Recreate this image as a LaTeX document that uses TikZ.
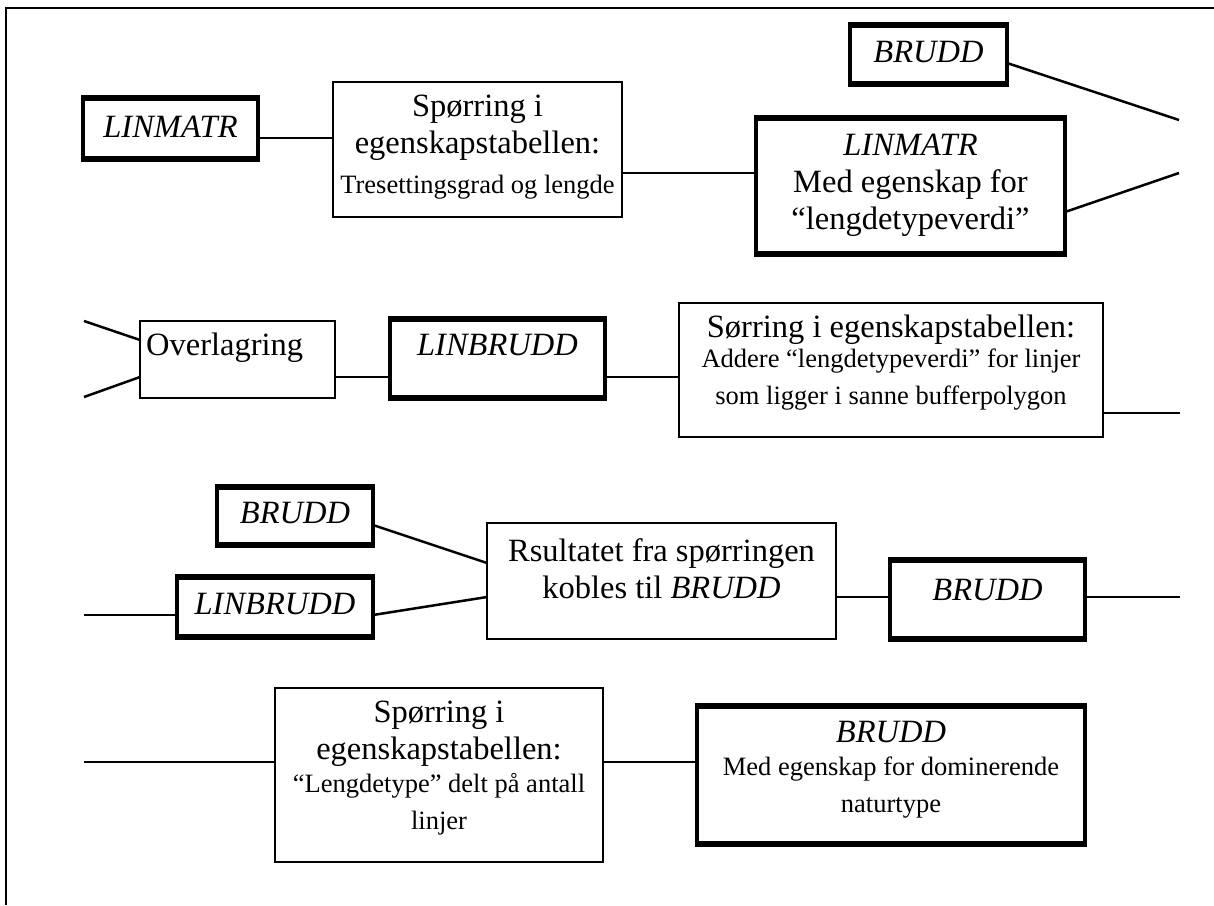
\documentclass[tikz,border=0pt]{standalone}
\usepackage{fontspec}
\setmainfont{Liberation Serif}
\newcommand\BigTxt{\fontsize{32.5}{37}\selectfont}
\newcommand\SmallTxt{\fontsize{26.5}{30.5}\selectfont}
\tikzset{
  thinbox/.style={draw, line width=2.2pt, inner sep=0pt, outer sep=0pt},
  thickbox/.style={draw, line width=4pt, inner sep=0pt, outer sep=0pt},
  thickedge/.style={line width=6.5pt},
  conn/.style={line width=2.5pt},
  txt/.style={anchor=base, align=flush center, inner sep=0pt, font=\BigTxt},
}
\begin{document}
\begin{tikzpicture}[x=1pt, y=-1pt]
\useasboundingbox (0,0) rectangle (1214,905);
% frame
\draw[line width=2.5pt] (6,905) -- (6,8) -- (1214,8);

% ---------- boxes ----------
\node[thickbox, minimum width=175pt, minimum height=61pt]  (lm1)  at (170.5,128.5) {};
\node[thinbox,  minimum width=289pt, minimum height=135pt] (sp1)  at (477.5,149.5) {};
\node[thickbox, minimum width=309pt, minimum height=136pt] (lm2)  at (910.5,186) {};
\node[thickbox, minimum width=157pt, minimum height=59pt]  (br1)  at (928.5,54.5) {};
\node[thinbox,  minimum width=195pt, minimum height=77pt]  (ov)   at (237.5,359.5) {};
\node[thickbox, minimum width=215pt, minimum height=79pt]  (lb2)  at (497.5,358.5) {};
\node[thinbox,  minimum width=424pt, minimum height=134pt] (so)   at (891,370) {};
\node[thickbox, minimum width=156pt, minimum height=58pt]  (br3a) at (295,516) {};
\node[thickbox, minimum width=196pt, minimum height=60pt]  (lb3)  at (275,607) {};
\node[thinbox,  minimum width=349pt, minimum height=116pt] (rs)   at (661.5,581) {};
\node[thickbox, minimum width=195pt, minimum height=79pt]  (br3b) at (987.5,599.5) {};
\node[thinbox,  minimum width=328pt, minimum height=174pt] (sp4)  at (439,775) {};
\node[thickbox, minimum width=388pt, minimum height=138pt] (br4)  at (891,775) {};

\foreach \n in {lm1,lm2,br1,lb2,br3a,lb3,br3b,br4}{
  \draw[thickedge] ([xshift=-2pt]\n.north west) -- ([xshift=2pt]\n.north east);
  \draw[thickedge] ([xshift=-2pt]\n.south west) -- ([xshift=2pt]\n.south east);
}

% ---------- texts ----------
\node[txt, text width=175pt] (tlm1) at (170.5,137) {\textit{LINMATR}};
\node[txt, text width=289pt] (tsp1) at (477.5,116)
  {Spørring i\\egenskapstabellen:\par\vspace{3pt}\SmallTxt Tresettingsgrad og lengde};
\node[txt, text width=309pt] (tlm2) at (910.5,155)
  {\textit{LINMATR}\\Med egenskap for\\“lengdetypeverdi”};
\node[txt, text width=157pt] (tbr1) at (928.5,62) {\textit{BRUDD}};
\node[txt, anchor=base west] (tov) at (146,355) {Overlagring};
\node[txt, text width=215pt] (tlb2) at (497.5,355) {\textit{LINBRUDD}};
\node[txt, text width=424pt] (tso) at (891,337)
  {Sørring i egenskapstabellen:\par\SmallTxt Addere “lengdetypeverdi” for linjer\\som ligger i sanne bufferpolygon};
\node[txt, text width=156pt] (tbr3a) at (295,523) {\textit{BRUDD}};
\node[txt, text width=196pt] (tlb3) at (275,614) {\textit{LINBRUDD}};
\node[txt, text width=349pt] (trs) at (661.5,561)
  {Rsultatet fra spørringen\\kobles til \textit{BRUDD}};
\node[txt, text width=195pt] (tbr3b) at (987.5,600) {\textit{BRUDD}};
\node[txt, text width=328pt] (tsp4) at (439,722)
  {Spørring i\\egenskapstabellen:\par\vspace{3pt}\SmallTxt “Lengdetype” delt på antall\\linjer};
\node[txt, text width=388pt] (tbr4) at (891,742)
  {\textit{BRUDD}\par\vspace{2.5pt}\SmallTxt Med egenskap for dominerende\\naturtype};

% ---------- free ends ----------
\coordinate (r1a) at (1179,120);
\coordinate (r1b) at (1179,173);
\coordinate (l2a) at (84,321);
\coordinate (l2b) at (84,397);
\coordinate (r2)  at (1180,413);
\coordinate (l3)  at (84,615);
\coordinate (r3)  at (1180,597);
\coordinate (l4)  at (84,762);

% ---------- connectors ----------
\draw[conn] (lm1.east |- 0,138) -- (sp1.west |- 0,138);
\draw[conn] (sp1.east |- 0,173) -- (lm2.west |- 0,173);
\draw[conn] (br1.east |- 0,63) -- (r1a);
\draw[conn] (lm2.east |- 0,212) -- (r1b);
\draw[conn] (l2a) -- (ov.west |- 0,340);
\draw[conn] (l2b) -- (ov.west |- 0,377);
\draw[conn] (ov.east |- 0,377) -- (lb2.west |- 0,377);
\draw[conn] (lb2.east |- 0,377) -- (so.west |- 0,377);
\draw[conn] (so.east |- 0,413) -- (r2);
\draw[conn] (l3) -- (lb3.west |- 0,615);
\draw[conn] (br3a.east |- 0,525) -- (rs.west |- 0,563);
\draw[conn] (lb3.east |- 0,615) -- (rs.west |- 0,597);
\draw[conn] (rs.east |- 0,597) -- (br3b.west |- 0,597);
\draw[conn] (br3b.east |- 0,597) -- (r3);
\draw[conn] (l4) -- (sp4.west |- 0,762);
\draw[conn] (sp4.east |- 0,762) -- (br4.west |- 0,762);
\end{tikzpicture}
\end{document}
